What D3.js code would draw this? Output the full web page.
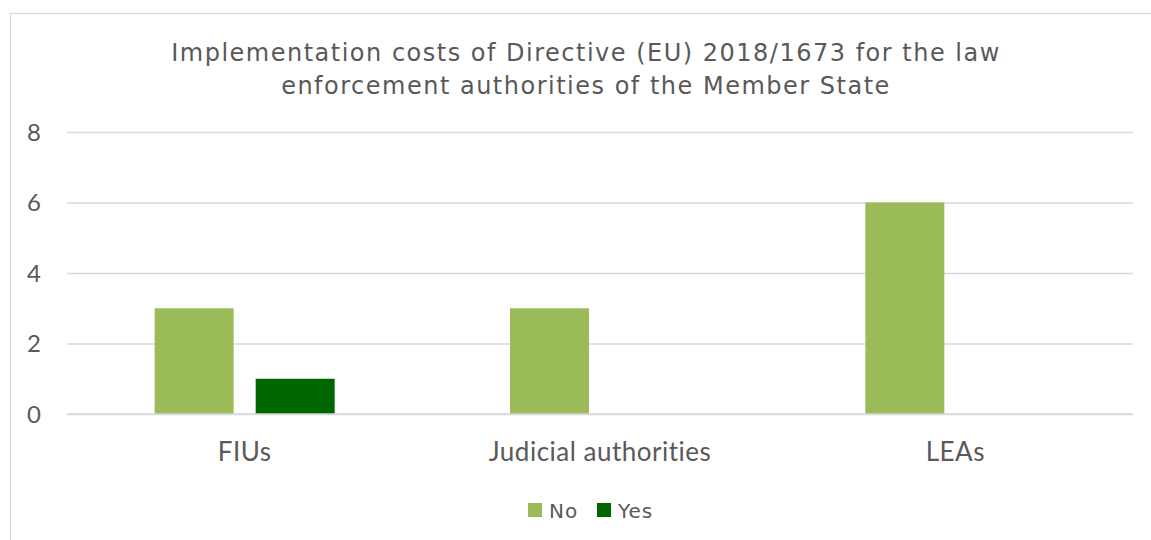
<!DOCTYPE html>
<html><head><meta charset="utf-8">
<script src="https://cdn.jsdelivr.net/npm/d3@7"></script>
<style>body{margin:0;background:#fff}</style>
</head><body>
<script>
const categories = ["FIUs", "Judicial authorities", "LEAs"];
const seriesNames = ["No", "Yes"];
const noValues = [3, 3, 6];
const yesValues = [1, 0, 0];
const yTicks = [0, 2, 4, 6, 8];
const colors = {No: "#9bbb59", Yes: "#006600"};
const titleLines = ["Implementation costs of Directive (EU) 2018/1673 for the law", "enforcement authorities of the Member State"];

(function () {
const W = 1151, H = 540;
const verdanaLike = "'DejaVu Sans', 'Verdana', sans-serif";
const calibriLike = "'Lato', 'Open Sans', sans-serif";
const svg = d3.select("body").append("svg").attr("width", W).attr("height", H);
svg.append("rect").attr("x", 10.5).attr("y", 13.5).attr("width", W + 20).attr("height", H + 20)
  .attr("fill", "#fff").attr("stroke", "#d9d9d9").attr("stroke-width", 1.2);

const pLeft = 67, pRight = 1133, pTop = 132, pBottom = 414;
const y = d3.scaleLinear().domain([0, 8]).range([pBottom, pTop]);
const x0 = d3.scaleBand().domain(categories).range([pLeft, pRight]).paddingInner(0.4934).paddingOuter(0.2467);
const x1 = d3.scaleBand().domain(seriesNames).range([0, x0.bandwidth()]).paddingInner(0.218).paddingOuter(0);

const t = svg.append("text").attr("text-anchor", "middle").attr("fill", "#595959")
  .style("font-family", verdanaLike).style("font-size", "24px").style("letter-spacing", "1.5px");
titleLines.forEach((l, i) => t.append("tspan").attr("x", 586).attr("y", 61 + i * 33).text(l));

const yAxis = d3.axisLeft(y).tickValues(yTicks).tickSize(-(pRight - pLeft)).tickPadding(27);
const ga = svg.append("g").attr("transform", `translate(${pLeft},0)`).call(yAxis);
ga.select(".domain").remove();
ga.selectAll(".tick line").attr("stroke", "#d9d9d9").attr("stroke-width", 1.5);
ga.selectAll(".tick text").attr("fill", "#595959").style("font-family", calibriLike)
  .style("font-size", "24px").attr("text-anchor", "start").attr("x", -40).attr("dy", "0.35em");

const data = categories.map((c, i) => ({cat: c, vals: [{s: "No", v: noValues[i]}, {s: "Yes", v: yesValues[i]}]}));
const groups = svg.append("g").selectAll("g").data(data).join("g")
  .attr("transform", d => `translate(${x0(d.cat)},0)`);
groups.selectAll("rect").data(d => d.vals.filter(e => e.v > 0)).join("rect")
  .attr("x", d => x1(d.s)).attr("width", x1.bandwidth())
  .attr("y", d => y(d.v)).attr("height", d => y(0) - y(d.v))
  .attr("fill", d => colors[d.s]);

svg.append("line").attr("x1", pLeft).attr("x2", pRight).attr("y1", y(0)).attr("y2", y(0))
  .attr("stroke", "#d9d9d9").attr("stroke-width", 1.5);

const xAxis = d3.axisBottom(x0).tickSize(0).tickPadding(0);
const gx = svg.append("g").attr("transform", `translate(0,${pBottom})`).call(xAxis);
gx.select(".domain").remove();
gx.selectAll(".tick text").attr("fill", "#595959").style("font-family", calibriLike)
  .style("font-size", "26px").style("letter-spacing", "0.5px").attr("dy", null).attr("y", 47);

const leg = svg.append("g");
const legX = {No: 528, Yes: 597};
seriesNames.forEach(s => {
  leg.append("rect").attr("x", legX[s]).attr("y", 503).attr("width", 14).attr("height", 14).attr("fill", colors[s]);
  leg.append("text").attr("x", legX[s] + 21).attr("y", 518).attr("fill", "#595959")
    .style("font-family", verdanaLike).style("font-size", "20px").style("letter-spacing", "1px").text(s);
});
})();
</script>
</body></html>
